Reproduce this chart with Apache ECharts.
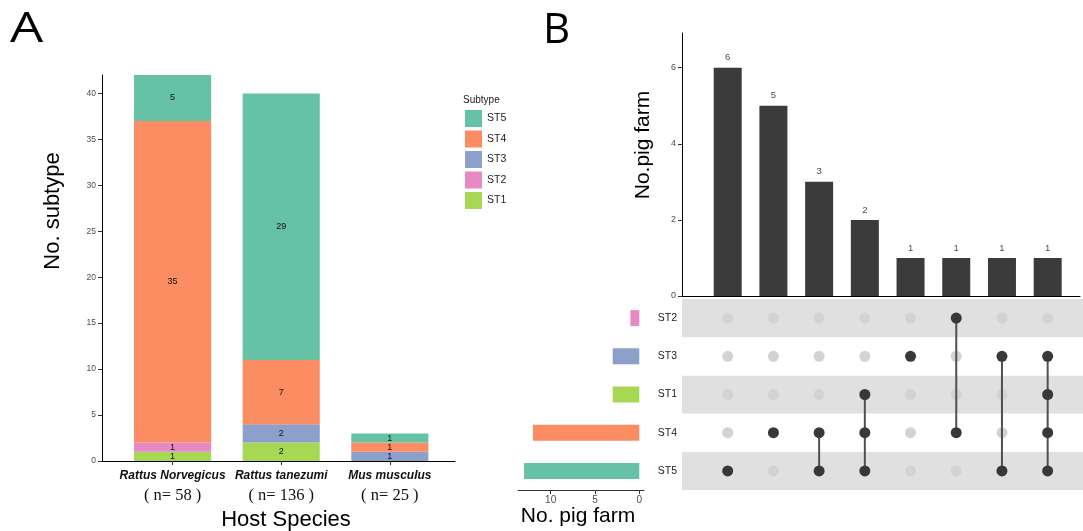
<!DOCTYPE html>
<html><head><meta charset="utf-8">
<script src="https://cdn.jsdelivr.net/npm/echarts@6/dist/echarts.min.js"></script>
<style>html,body{margin:0;padding:0;background:#fff}#c{width:1083px;height:531px}</style>
</head><body><div id="c"></div>
<script>
// ---------- Panel A data ----------
const hostSpecies = ['Rattus Norvegicus', 'Rattus tanezumi', 'Mus musculus'];
const hostN = [58, 136, 25];
const subtypeNames = ['ST1', 'ST2', 'ST3', 'ST4', 'ST5']; // stacked bottom -> top
const st1 = [1, 2, 0];
const st2 = [1, 0, 0];
const st3 = [0, 2, 1];
const st4 = [35, 7, 1];
const st5 = [5, 29, 1];
const subtypeColors = ['#a6d854', '#e78ac3', '#8da0cb', '#fc8d62', '#66c2a5'];
const legendOrder = ['ST5', 'ST4', 'ST3', 'ST2', 'ST1'];
const panelATicks = [0, 5, 10, 15, 20, 25, 30, 35, 40];

// ---------- Panel B data ----------
const setNames = ['ST5', 'ST4', 'ST1', 'ST3', 'ST2']; // bottom -> top
const setSizes = [13, 12, 3, 3, 1];
const setColors = ['#66c2a5', '#fc8d62', '#a6d854', '#8da0cb', '#e78ac3'];
const combos = [['ST5'], ['ST4'], ['ST4', 'ST5'], ['ST1', 'ST4', 'ST5'], ['ST3'], ['ST2', 'ST4'], ['ST3', 'ST5'], ['ST3', 'ST1', 'ST4', 'ST5']];
const comboCounts = [6, 5, 3, 2, 1, 1, 1, 1];
const upsetTicks = [0, 2, 4, 6];
const setSizeTicks = [0, 5, 10];

const FONT = 'Liberation Sans';
const chart = echarts.init(document.getElementById('c'), null, {renderer: 'canvas'});

// stacked data for panel A
const stValues = [st1, st2, st3, st4, st5];
const cum = hostSpecies.map(() => 0);
const panelASeries = subtypeNames.map((name, k) => {
  const data = stValues[k].map((v, i) => {
    const d = [i + 1, cum[i], v];
    cum[i] += v;
    return d;
  });
  return {
    type: 'custom', name: name, xAxisIndex: 0, yAxisIndex: 0,
    itemStyle: {color: subtypeColors[k]},
    encode: {x: 0, y: [1, 2]},
    data: data,
    renderItem: function (params, api) {
      const x = api.value(0), base = api.value(1), v = api.value(2);
      if (!v) return null;
      const p0 = api.coord([x, base]);
      const p1 = api.coord([x, base + v]);
      const w = api.size([0.71, 0])[0];
      return {
        type: 'group',
        children: [
          {type: 'rect', shape: {x: p0[0] - w / 2, y: p1[1], width: w, height: p0[1] - p1[1]},
           style: {fill: api.visual('color')}},
          {type: 'text', x: p0[0], y: (p0[1] + p1[1]) / 2,
           style: {text: String(v), align: 'center', verticalAlign: 'middle', fontSize: 9, fontFamily: FONT, fill: '#111'}}
        ]
      };
    }
  };
});

// matrix data
const activePts = [], inactivePts = [], linkData = [];
combos.forEach((c, i) => {
  const idx = [];
  setNames.forEach((s, j) => {
    if (c.indexOf(s) >= 0) { activePts.push([i + 1, j]); idx.push(j); }
    else inactivePts.push([i + 1, j]);
  });
  if (idx.length > 1) linkData.push([i + 1, Math.min(...idx), Math.max(...idx)]);
});

const option = {
  animation: false,
  backgroundColor: '#fff',
  textStyle: {fontFamily: FONT},
  legend: {
    data: legendOrder, left: 465, top: 110, orient: 'vertical',
    itemWidth: 17, itemHeight: 17, itemGap: 3.5, icon: 'rect', padding: 0,
    selectedMode: false,
    textStyle: {fontSize: 10.5, color: '#1a1a1a', fontFamily: FONT}
  },
  grid: [
    {left: 102, top: 75, width: 353, height: 386},
    {left: 682, top: 33, width: 398, height: 263},
    {left: 682, top: 299, width: 401, height: 191},
    {left: 518, top: 299, width: 126, height: 191}
  ],
  xAxis: [
    {type: 'value', gridIndex: 0, min: 0.35, max: 3.6, splitLine: {show: false},
     axisLine: {show: true, lineStyle: {color: '#000', width: 1}},
     axisTick: {show: true, customValues: hostSpecies.map((_, i) => i + 1), length: 4, lineStyle: {color: '#333'}},
     axisLabel: {show: true, customValues: hostSpecies.map((_, i) => i + 1), margin: 6,
       formatter: function (v) { const i = Math.round(v) - 1; return '{a|' + hostSpecies[i] + '}\n{b|( n= ' + hostN[i] + ' )}'; },
       rich: {
         a: {fontStyle: 'italic', fontWeight: 'bold', fontSize: 12, fontFamily: FONT, color: '#111', lineHeight: 18},
         b: {fontFamily: 'Liberation Serif', fontSize: 16.5, color: '#111', lineHeight: 21}
       }}},
    {type: 'value', gridIndex: 1, min: 0, max: 8.707, splitLine: {show: false},
     axisLine: {show: true, lineStyle: {color: '#000', width: 1}}, axisTick: {show: false}, axisLabel: {show: false}},
    {type: 'value', gridIndex: 2, min: 0, max: 8.773, show: false},
    {type: 'value', gridIndex: 3, min: -0.53, max: 13.68, inverse: true, splitLine: {show: false},
     axisLine: {show: true, lineStyle: {color: '#333', width: 1}},
     axisTick: {show: true, customValues: setSizeTicks, length: 4, lineStyle: {color: '#333'}},
     axisLabel: {show: true, customValues: setSizeTicks, fontSize: 10, color: '#4d4d4d', margin: 5}}
  ],
  yAxis: [
    {type: 'value', gridIndex: 0, min: 0, max: 42, splitLine: {show: false},
     axisLine: {show: true, lineStyle: {color: '#000', width: 1}},
     axisTick: {show: true, customValues: panelATicks, length: 4, lineStyle: {color: '#333'}},
     axisLabel: {show: true, customValues: panelATicks, fontSize: 8.5, color: '#4d4d4d', margin: 6}},
    {type: 'value', gridIndex: 1, min: 0, max: 6.91, splitLine: {show: false},
     axisLine: {show: true, lineStyle: {color: '#000', width: 1}},
     axisTick: {show: true, customValues: upsetTicks, length: 4, lineStyle: {color: '#333'}},
     axisLabel: {show: true, customValues: upsetTicks, fontSize: 9, color: '#4d4d4d', margin: 6}},
    {type: 'category', gridIndex: 2, data: setNames,
     axisLine: {show: false}, axisTick: {show: false},
     axisLabel: {fontSize: 10.5, color: '#1a1a1a', margin: 5},
     splitLine: {show: false},
     splitArea: {show: true, areaStyle: {color: ['#e0e0e0', '#ffffff']}}},
    {type: 'category', gridIndex: 3, data: setNames, show: false}
  ],
  graphic: [
    {type: 'text', x: 10, y: 30.5, scaleX: 1.25,
     style: {text: 'A', fontSize: 42, fontFamily: 'Open Sans', fontWeight: 400, fill: '#000', align: 'left', verticalAlign: 'middle'}},
    {type: 'text', x: 543, y: 31,
     style: {text: 'B', fontSize: 42, fontFamily: 'Open Sans', fontWeight: 400, fill: '#000', align: 'left', verticalAlign: 'middle'}},
    {type: 'text', x: 53, y: 211, rotation: Math.PI / 2,
     style: {text: 'No. subtype', fontSize: 22, fontFamily: FONT, fill: '#000', align: 'center', verticalAlign: 'middle'}},
    {type: 'text', x: 286, y: 520,
     style: {text: 'Host Species', fontSize: 22, fontFamily: FONT, fill: '#000', align: 'center', verticalAlign: 'middle'}},
    {type: 'text', x: 463, y: 100,
     style: {text: 'Subtype', fontSize: 10, fontFamily: FONT, fill: '#1a1a1a', align: 'left', verticalAlign: 'middle'}},
    {type: 'text', x: 643, y: 145, rotation: Math.PI / 2,
     style: {text: 'No.pig farm', fontSize: 21, fontFamily: FONT, fill: '#000', align: 'center', verticalAlign: 'middle'}},
    {type: 'text', x: 578, y: 516,
     style: {text: 'No. pig farm', fontSize: 21, fontFamily: FONT, fill: '#000', align: 'center', verticalAlign: 'middle'}}
  ],
  series: panelASeries.concat([
    {type: 'bar', xAxisIndex: 1, yAxisIndex: 1, barWidth: 28,
     itemStyle: {color: '#3b3b3b'},
     label: {show: true, position: 'top', distance: 5, fontSize: 9.5, color: '#4d4d4d', fontFamily: FONT},
     data: comboCounts.map((c, i) => [i + 1, c])},
    {type: 'scatter', xAxisIndex: 2, yAxisIndex: 2, symbolSize: 11, z: 2,
     itemStyle: {color: '#d3d3d3', opacity: 1}, data: inactivePts},
    {type: 'custom', xAxisIndex: 2, yAxisIndex: 2, z: 3, data: linkData,
     encode: {x: 0, y: [1, 2]},
     renderItem: function (params, api) {
       const a = api.coord([api.value(0), api.value(1)]);
       const b = api.coord([api.value(0), api.value(2)]);
       return {type: 'line', shape: {x1: a[0], y1: a[1], x2: b[0], y2: b[1]},
               style: {stroke: '#505050', lineWidth: 2}};
     }},
    {type: 'scatter', xAxisIndex: 2, yAxisIndex: 2, symbolSize: 11, z: 4,
     itemStyle: {color: '#383838', opacity: 1}, data: activePts},
    {type: 'bar', xAxisIndex: 3, yAxisIndex: 3, barWidth: 16,
     data: setSizes.map((v, i) => ({value: v, itemStyle: {color: setColors[i]}}))}
  ])
};
chart.setOption(option);
</script>
</body></html>
